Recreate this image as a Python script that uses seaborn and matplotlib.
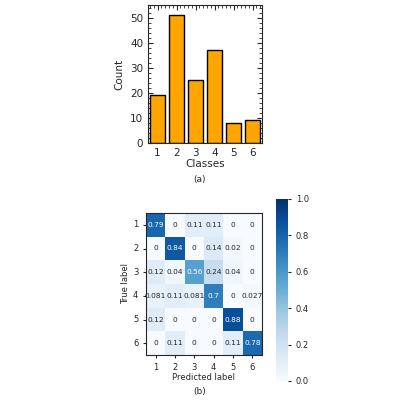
import matplotlib
matplotlib.use("Agg")
import matplotlib.pyplot as plt
import seaborn as sns
import numpy as np
import pandas as pd

classes = ["1", "2", "3", "4", "5", "6"]
counts = [19, 51, 25, 37, 8, 9]
cm_rows = [
    [0.79, 0, 0.11, 0.11, 0, 0],
    [0, 0.84, 0, 0.14, 0.02, 0],
    [0.12, 0.04, 0.56, 0.24, 0.04, 0],
    [0.081, 0.11, 0.081, 0.7, 0, 0.027],
    [0.12, 0, 0, 0, 0.88, 0],
    [0, 0.11, 0, 0, 0.11, 0.78],
]

sns.set_style("ticks")
plt.rcParams['font.family'] = ['DejaVu Sans']
fig = plt.figure(figsize=(4, 4), dpi=100)

ax1 = fig.add_axes([0.37, 0.6425, 0.285, 0.345])
df = pd.DataFrame({"Classes": classes, "Count": counts})
sns.barplot(data=df, x="Classes", y="Count", color="orange", saturation=1,
            edgecolor="black", linewidth=1, width=0.8, ax=ax1)
ax1.set_ylim(0, 55)
ax1.set_yticks([0, 10, 20, 30, 40, 50])
ax1.tick_params(direction="in", top=True, right=True, labelsize=7.5)
ax1.minorticks_on()
ax1.tick_params(which="minor", direction="in", top=True, right=True, bottom=False)
ax1.set_xlabel("Classes", fontsize=7.5, labelpad=1)
ax1.set_ylabel("Count", fontsize=7.5)
fig.text(0.5, 0.545, "(a)", ha="center", fontsize=6.5)

ax2 = fig.add_axes([0.365, 0.1125, 0.29, 0.355])
cax = fig.add_axes([0.69, 0.0475, 0.03, 0.455])
annot = np.array([[("%g" % v) for v in r] for r in cm_rows])
sns.heatmap(np.array(cm_rows), annot=annot, fmt="", cmap="Blues", vmin=0, vmax=1,
            ax=ax2, cbar_ax=cax, xticklabels=classes, yticklabels=classes,
            annot_kws={"fontsize": 5.3})
ax2.tick_params(labelsize=6, length=2)
ax2.set_yticklabels(classes, rotation=0)
for s in ax2.spines.values():
    s.set_visible(True)
ax2.set_xlabel("Predicted label", fontsize=6, labelpad=1)
ax2.set_ylabel("True label", fontsize=6, labelpad=2)
cax.tick_params(labelsize=6, length=2)
fig.text(0.5, 0.015, "(b)", ha="center", fontsize=6.5)

fig.savefig("out.png", dpi=100)
